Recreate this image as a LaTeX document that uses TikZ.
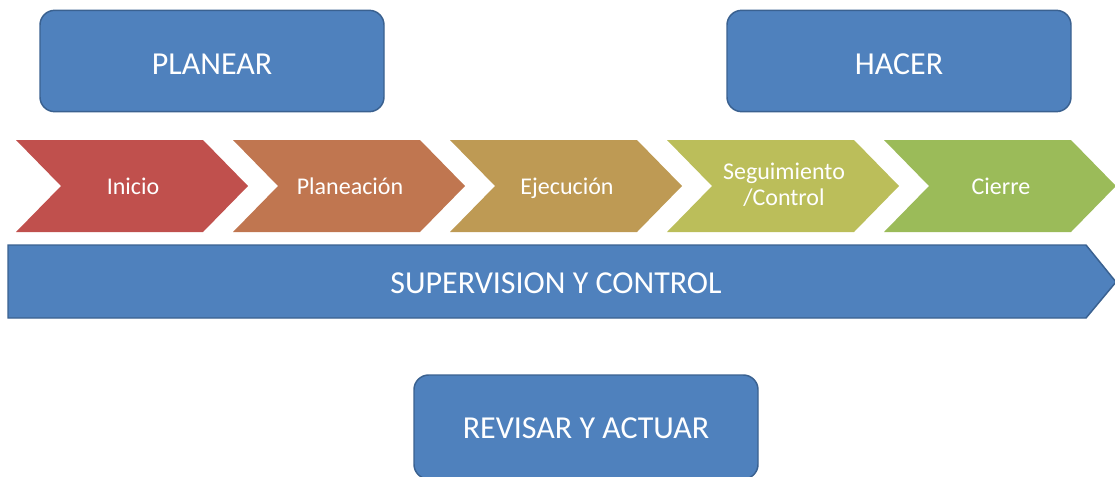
\documentclass[tikz,border=0pt]{standalone}
\usepackage{fontspec}
\setmainfont{Carlito}
\definecolor{boxblue}{HTML}{4F81BD}
\definecolor{boxedge}{HTML}{3A6190}
\definecolor{cInicio}{RGB}{192,80,77}
\definecolor{cPlan}{RGB}{192,118,80}
\definecolor{cEjec}{RGB}{190,154,84}
\definecolor{cSeg}{RGB}{187,190,90}
\definecolor{cCierre}{RGB}{155,187,89}
\tikzset{
  phasebox/.style={draw=boxedge, line width=1.1pt, fill=boxblue, rounded corners=11pt,
    minimum width=258pt, minimum height=76pt, text=white, font=\fontsize{24}{27}\selectfont},
  chevtext/.style={text=white, align=center, font=\fontsize{18}{19.5}\selectfont},
  bandtext/.style={text=white, font=\fontsize{24}{27}\selectfont}
}
% lower a label inside its node without changing the node's size
\newcommand{\lowered}[2]{\raisebox{-#1}[\height][\depth]{#2}}
\newcommand{\chevronat}[2]{% left x, colour
  \fill[#2] (#1,140) -- ++(187,0) -- ++(45,46) -- ++(-45,46) -- ++(-187,0) -- ++(45,-46) -- cycle;
}
\begin{document}
\begin{tikzpicture}[x=0.75pt,y=-0.75pt]
\useasboundingbox (0,0) rectangle (1115,476);

% top phase boxes
\node[phasebox] (planear) at (212,61) {\lowered{2.2pt}{PLANEAR}};
\node[phasebox] (hacer) at (899,61) {\lowered{2.2pt}{HACER}};

% process chevrons
\chevronat{16}{cInicio}
\chevronat{233}{cPlan}
\chevronat{450}{cEjec}
\chevronat{667}{cSeg}
\chevronat{884}{cCierre}
\node[chevtext] (inicio) at (133,186) {Inicio};
\node[chevtext] (planeacion) at (350,186) {Planeación};
\node[chevtext] (ejecucion) at (567,188) {Ejecución};
\node[chevtext] (seguimiento) at (784,185) {Seguimiento\\/Control};
\node[chevtext] (cierre) at (1001,186) {Cierre};

% supervision band
\draw[draw=boxedge, line width=1.1pt, fill=boxblue]
  (8,245) -- (1086,245) -- (1116,282) -- (1086,318) -- (8,318) -- cycle;
\node[bandtext] (supervision) at (556,283) {SUPERVISION Y CONTROL};

% bottom box
\node[phasebox, minimum height=78pt] (revisar) at (586,427) {\lowered{0.8pt}{REVISAR Y ACTUAR}};
\end{tikzpicture}
\end{document}
